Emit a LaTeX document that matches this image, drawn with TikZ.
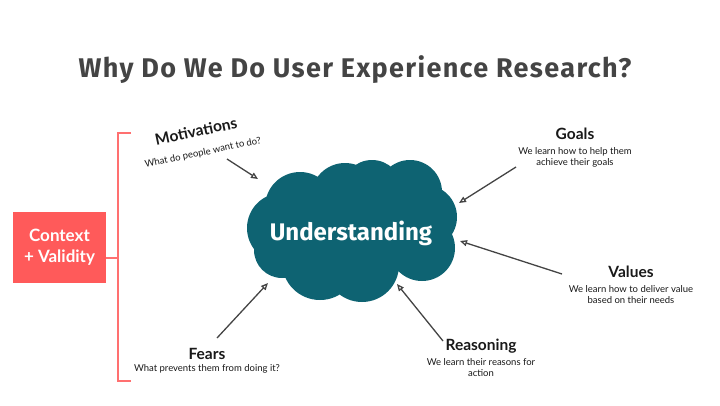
\documentclass[tikz,border=0pt]{standalone}
\usepackage{fontspec}
\setmainfont{Lato}
\newfontfamily\headfont{Fira Sans}
\newfontfamily\headwide{Fira Sans}[LetterSpace=5]
\usetikzlibrary{arrows.meta,positioning}
\definecolor{tinta}{RGB}{68,68,68}
\definecolor{coral}{RGB}{255,90,90}
\definecolor{coralclaro}{RGB}{255,112,112}
\definecolor{petroleo}{RGB}{14,99,114}
\definecolor{texto}{RGB}{25,25,25}

\begin{document}
\begin{tikzpicture}[x=1pt,y=-1pt,
    flecha/.style={-{Triangle[open,length=7pt,width=6pt]},line width=1.3pt,tinta},
    titulo/.style={font=\fontsize{15.5}{18}\selectfont\bfseries,texto,inner sep=0pt},
    sub/.style={font=\fontsize{9.5}{11}\selectfont,texto,align=center,inner sep=0pt}]
  \useasboundingbox (0,0) rectangle (720,405);
  \node[font=\headwide\bfseries\fontsize{27}{32}\selectfont,tinta] (title) at (355,70) {Why Do We Do User Experience Research?};
  % nube
  \fill[petroleo] (300,207) circle (35pt) (345,197) circle (34pt) (372,190) circle (30pt)
    (410,192) circle (32pt) (425,217) circle (32pt) (422,248) circle (33pt)
    (282,228) circle (35pt) (282,250) circle (28pt) (320,262) circle (38pt)
    (362,265) circle (37pt);
  \fill[petroleo] (290,195) rectangle (430,270);
  \node[font=\headfont\bfseries\fontsize{24}{28}\selectfont,white] (und) at (351,233) {Understanding};
  % contexto
  \node[fill=coral,minimum width=93,minimum height=71,text=white,align=center,
    font=\fontsize{17}{21}\selectfont\bfseries] (ctx) at (59.5,247.5) {Context\\+ Validity};
  \coordinate (bTop) at (131,133);
  \coordinate (bBot) at (131,381);
  \coordinate (bMid) at (118,258);
  \draw[coralclaro,line width=1.5pt] (bTop) -- (118,133) -- (118,381) -- (bBot);
  \draw[coralclaro,line width=1.5pt] (ctx.east |- bMid) -- (bMid);
  % etiquetas
  \node[titulo,rotate=12] (motiv) at (196,131) {Motivations};
  \node[sub,rotate=12] (motivSub) at (203,153) {What do people want to do?};
  \node[titulo] (fears) at (207,354) {Fears};
  \node[sub] (fearsSub) at (207,369) {What prevents them from doing it?};
  \node[titulo] (goals) at (575,134) {Goals};
  \node[sub] (goalsSub) at (575,157) {We learn how to help them\\achieve their goals};
  \node[titulo] (values) at (631,272) {Values};
  \node[sub] (valuesSub) at (631,295) {We learn how to deliver value\\based on their needs};
  \node[titulo] (reason) at (481,346) {Reasoning};
  \node[sub] (reasonSub) at (481,368) {We learn their reasons for\\action};
  % flechas
  \coordinate (motivA) at (227,159);  \coordinate (motivB) at (258,179);
  \coordinate (fearsA) at (217,338);  \coordinate (fearsB) at (268,283);
  \coordinate (goalsA) at (516,167);  \coordinate (goalsB) at (459,203);
  \coordinate (valuesA) at (562,274); \coordinate (valuesB) at (460,241);
  \coordinate (reasonA) at (443,341); \coordinate (reasonB) at (397,284);
  \draw[flecha] (motivA) -- (motivB);
  \draw[flecha] (fearsA) -- (fearsB);
  \draw[flecha] (goalsA) -- (goalsB);
  \draw[flecha] (valuesA) -- (valuesB);
  \draw[flecha] (reasonA) -- (reasonB);
\end{tikzpicture}
\end{document}
